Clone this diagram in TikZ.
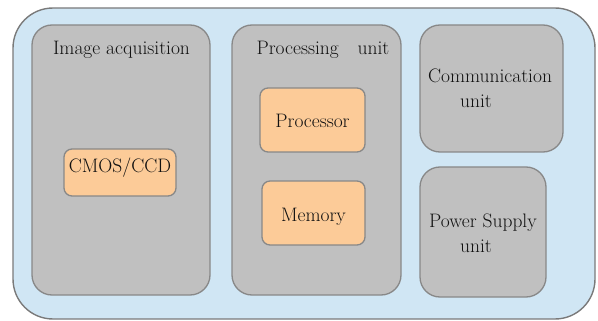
\documentclass[tikz,border=0pt]{standalone}
\definecolor{outerfill}{HTML}{D0E6F4}
\definecolor{outerline}{HTML}{7A7A7A}
\definecolor{unitfill}{HTML}{C0C0C0}
\definecolor{unitline}{HTML}{888888}
\definecolor{partfill}{HTML}{FCCB98}
\definecolor{txt}{HTML}{111111}
\begin{document}
\begin{tikzpicture}[x=1pt,y=-1pt,
  outerbox/.style={draw=outerline,fill=outerfill,line width=1.4pt,rounded corners=40pt,inner sep=0pt},
  unitbox/.style={draw=unitline,fill=unitfill,line width=1.3pt,rounded corners=20pt,inner sep=0pt},
  partbox/.style={draw=unitline,fill=partfill,line width=1.3pt,rounded corners=8pt,inner sep=0pt},
  lbl/.style={anchor=base,inner sep=0pt,text=txt,font=\rmfamily\fontsize{19.5pt}{23pt}\selectfont}]
\useasboundingbox (0,0) rectangle (598,321);
\node[outerbox,minimum width=582pt,minimum height=311pt] (outer) at (304,163.5) {};
\node[unitbox,minimum width=178pt,minimum height=270pt] (acq) at (121,160) {};
\node[unitbox,minimum width=169pt,minimum height=270pt] (proc) at (316.5,160) {};
\node[unitbox,minimum width=143pt,minimum height=127pt] (comm) at (491.5,88.5) {};
\node[unitbox,minimum width=126pt,minimum height=130pt] (power) at (483,232) {};
\node[partbox,minimum width=112pt,minimum height=47pt] (cmos) at (120,172.5) {};
\node[partbox,minimum width=105pt,minimum height=64pt] (cpu) at (312.5,120) {};
\node[partbox,minimum width=103pt,minimum height=64pt] (mem) at (313.5,213) {};
\node[lbl] (acqT) at (121.5,55) {Image acquisition};
\node[lbl] (procT) at (323,55) {Processing\hspace{13pt} unit};
\node[lbl] (cmosT) at (120,172) {CMOS/CCD};
\node[lbl] (cpuT) at (312.5,128) {Processor};
\node[lbl] (memT) at (313.5,221) {Memory};
\node[lbl] (commT1) at (490,83) {Communication};
\node[lbl] (commT2) at (476,107) {unit};
\node[lbl] (powT1) at (483,227) {Power Supply};
\node[lbl] (powT2) at (476,252) {unit};
\end{tikzpicture}
\end{document}
